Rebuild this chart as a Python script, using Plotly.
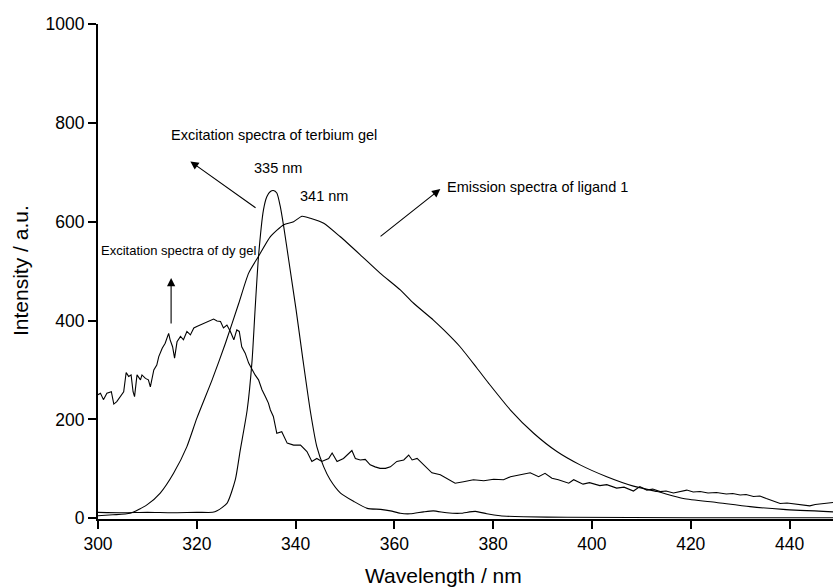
import plotly.graph_objects as go

# ---- data ----
dy_x = [300.0, 300.5, 301.1, 301.8, 302.7, 303.2, 303.8, 304.5, 305.2, 305.7, 306.2, 306.7, 307.1, 307.4,
        307.9, 308.6, 308.9, 309.6, 310.2, 310.6, 311.3, 311.9, 312.3, 313.0, 313.6, 314.3, 314.6, 315.1,
        315.5, 316.0, 316.7, 317.3, 318.0, 318.7, 319.4, 320.0, 320.7, 321.4, 322.1, 322.7, 323.4, 324.1,
        324.8, 325.4, 326.1, 326.8, 327.5, 328.1, 328.6, 329.1, 329.8, 330.5, 331.2, 331.8, 332.5, 333.2,
        333.9, 334.5, 334.9, 335.5, 336.2, 337.2, 338.3, 339.6, 341.0, 341.6, 342.3, 343.3, 344.3, 345.3,
        346.7, 347.4, 348.4, 349.7, 351.4, 352.1, 353.1, 354.1, 355.1, 356.1, 357.1, 358.2, 359.2, 360.5,
        361.9, 362.9, 363.6, 364.6, 365.6, 366.6, 367.6, 369.3, 370.6, 372.3, 374.0, 376.0, 378.1, 380.1,
        382.1, 383.5, 385.5, 387.5, 389.2, 390.5, 391.9, 393.2, 395.3, 396.3, 398.2, 399.5, 401.6, 403.0,
        405.0, 406.5, 408.4, 409.7, 411.1, 412.3, 413.8, 415.0, 416.5, 418.0, 419.2, 420.5, 421.9, 423.5,
        425.2, 427.2, 428.5, 430.0, 431.2, 432.7, 434.0, 435.3, 436.5, 438.1, 439.5, 440.8, 442.5, 444.1,
        445.2, 446.2, 447.5, 448.8]
dy_y = [250, 253, 240, 253, 256, 231, 236, 246, 256, 295, 287, 290, 256, 246,
        290, 280, 290, 283, 280, 266, 300, 310, 327, 344, 354, 374, 361, 347,
        324, 357, 368, 361, 378, 371, 385, 388, 391, 395, 398, 401, 403, 399,
        398, 385, 391, 378, 361, 381, 378, 347, 334, 314, 300, 290, 280, 260,
        246, 233, 219, 206, 172, 175, 152, 148, 148, 142, 135, 115, 121, 115,
        121, 132, 115, 121, 137, 121, 118, 119, 108, 104, 101, 101, 104, 115,
        118, 128, 118, 121, 111, 101, 92, 88, 81, 71, 74, 78, 76, 79,
        78, 84, 88, 92, 84, 91, 81, 78, 71, 78, 69, 72, 66, 68,
        61, 63, 55, 64, 57, 59, 54, 55, 51, 55, 57, 53, 54, 51,
        52, 49, 50, 47, 48, 44, 45, 40, 36, 30, 31, 29, 27, 25,
        28, 29, 30, 32]

tb_x = [300, 305, 310, 315, 320, 323.2, 324.1, 326.1, 327.8, 328.8, 330.2, 331.2, 331.8, 332.5,
        333.5, 334.2, 334.9, 335.5, 336.2, 336.9, 337.6, 338.6, 340.1, 341.5, 343.0, 344.3, 345.7, 347.0,
        349.1, 351.8, 354.5, 357.2, 359.2, 361.2, 363.2, 365.9, 367.9, 370.6, 373.3, 376.4, 378.7, 381.4,
        386.2, 395, 420, 448.8]
tb_y = [12, 11, 12, 11, 12, 12, 15, 30, 78, 138, 219, 320, 422, 530,
        624, 651, 661, 663, 658, 631, 590, 523, 422, 320, 216, 145, 104, 78,
        51, 34, 20, 18, 15, 10, 9, 13, 15, 11, 10, 14, 9, 5,
        3, 2, 1, 1]

em_x = [300, 303, 306.5, 309.9, 312.6, 315.3, 318.0, 320.0, 323.1, 325.8, 328.5, 330.5, 332.5,
        334.9, 337.6, 339.6, 341.3, 343.0, 345.7, 349.0, 353.1, 357.1, 361.2, 363.9, 367.9, 370.0,
        373.3, 376.7, 379.1, 383.5, 388.2, 392.9, 397.6, 403.0, 408.4, 413.2, 418.5, 425.2, 432.0,
        438.7, 448.8]
em_y = [5, 7, 10, 27, 51, 91, 145, 202, 280, 354, 435, 496, 530,
        570, 594, 600, 611, 607, 597, 570, 533, 496, 462, 435, 401, 381,
        347, 304, 273, 219, 172, 135, 108, 84, 65, 54, 40, 32, 23.5,
        18, 13]

x_ticks = [300, 320, 340, 360, 380, 400, 420, 440]
y_ticks = [0, 200, 400, 600, 800, 1000]

FONT = "Liberation Sans, Arial, Helvetica, sans-serif"

fig = go.Figure()
for xs, ys, shape in [(dy_x, dy_y, "linear"), (tb_x, tb_y, "spline"), (em_x, em_y, "spline")]:
    fig.add_trace(go.Scatter(x=xs, y=ys, mode="lines",
                             line=dict(color="black", width=1.1, shape=shape, smoothing=0.6),
                             showlegend=False, hoverinfo="skip"))

# text labels: (text, x, y, size)
labels = [
    ("Excitation spectra of terbium gel", 335.6, 776, 14.5),
    ("335 nm", 336.5, 709, 14.5),
    ("341 nm", 345.8, 652, 14.5),
    ("Excitation spectra of dy gel", 316.2, 541, 13),
    ("Emission spectra of ligand 1", 389.0, 671, 14.5),
]
for t, x, y, s in labels:
    fig.add_annotation(x=x, y=y, text=t, showarrow=False, xref="x", yref="y",
                       font=dict(family=FONT, size=s, color="black"))

# arrows: head (x, y), tail (ax, ay)
arrows = [
    (318.7, 722, 332.2, 626),
    (369.3, 666, 356.9, 568),
    (314.8, 486, 314.8, 391),
]
for x, y, ax, ay in arrows:
    fig.add_annotation(x=x, y=y, ax=ax, ay=ay, xref="x", yref="y", axref="x", ayref="y",
                       text="", showarrow=True, arrowhead=2, arrowsize=1.5,
                       arrowwidth=1.1, arrowcolor="black")

# axis titles
fig.add_annotation(x=443, y=575, xref="paper", yref="paper", text="Wavelength / nm",
                   showarrow=False, font=dict(family=FONT, size=21, color="black"))
fig.add_annotation(x=20, y=271, xref="paper", yref="paper", text="Intensity / a.u.",
                   textangle=-90, showarrow=False, font=dict(family=FONT, size=21, color="black"))

W, H = 833, 588
ML, MR, MT, MB = 98, 0, 24, 69
# convert paper-pixel annotations
for a in fig.layout.annotations:
    if a.xref == "paper":
        a.x = (a.x - ML) / (W - ML - MR)
        a.y = (H - MB - a.y) / (H - MT - MB)
        a.xanchor = "center"
        a.yanchor = "middle"

fig.update_layout(
    width=W, height=H,
    margin=dict(l=ML, r=MR, t=MT, b=MB, pad=0),
    paper_bgcolor="white", plot_bgcolor="white",
    font=dict(family=FONT, color="black"),
    xaxis=dict(range=[300, 448.8], tickvals=x_ticks, ticktext=[str(v) for v in x_ticks],
               showgrid=False, zeroline=False, showline=True, linecolor="black", linewidth=2,
               ticks="outside", ticklen=8, tickwidth=2, tickcolor="black",
               tickfont=dict(family=FONT, size=17.5, color="black")),
    yaxis=dict(range=[-1.5, 1000], tickvals=y_ticks, ticktext=[str(v) for v in y_ticks],
               showgrid=False, zeroline=False, showline=True, linecolor="black", linewidth=2,
               ticks="outside", ticklen=8, tickwidth=2, tickcolor="black",
               tickfont=dict(family=FONT, size=17.5, color="black")),
)

fig.write_html("out.html")
